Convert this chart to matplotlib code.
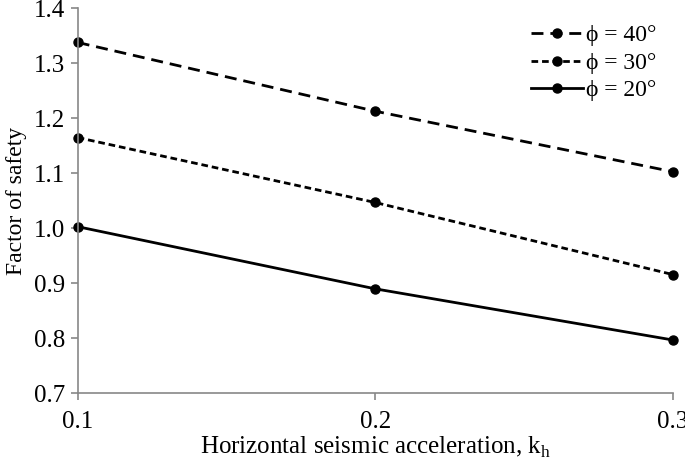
import matplotlib
matplotlib.use("Agg")
import matplotlib.pyplot as plt

plt.rcParams['font.family'] = ['Liberation Serif', 'DejaVu Serif']
plt.rcParams['mathtext.fontset'] = 'custom'
plt.rcParams['mathtext.rm'] = 'Liberation Serif'

kh = [0.1, 0.2, 0.3]
fs_40 = [1.338, 1.213, 1.103]
fs_30 = [1.165, 1.047, 0.916]
fs_20 = [1.003, 0.890, 0.797]
labels = ['ϕ = 40°', 'ϕ = 30°', 'ϕ = 20°']

fig = plt.figure(figsize=(6.85, 4.63), dpi=100)
ax = fig.add_axes([0.1134, 0.1505, 0.982 - 0.1134, 0.982 - 0.1505])

lw = 2.0
ax.plot(kh, fs_40, color='black', lw=lw, dashes=(4.3, 2.5), marker='o', ms=6.5, label=labels[0], clip_on=False)
ax.plot(kh, fs_30, color='black', lw=lw, dashes=(2.4, 1.4), marker='o', ms=6.5, label=labels[1], clip_on=False)
ax.plot(kh, fs_20, color='black', lw=lw, marker='o', ms=6.5, label=labels[2], clip_on=False)

ax.set_xlim(0.1, 0.3)
ax.set_ylim(0.7, 1.4)
ax.set_xticks(kh)
ax.set_xticklabels(['0.1', '0.2', '0.3'])
yt = [0.7, 0.8, 0.9, 1.0, 1.1, 1.2, 1.3, 1.4]
ax.set_yticks(yt)
ax.set_yticklabels(['%.1f' % v for v in yt])

for s in ['top', 'right']:
    ax.spines[s].set_visible(False)
for s in ['left', 'bottom']:
    ax.spines[s].set_color('#878787')
    ax.spines[s].set_linewidth(1.2)
ax.tick_params(axis='y', direction='out', length=5, color='#878787', width=1.2, labelsize=18, pad=4)
ax.tick_params(axis='x', direction='out', length=5, color='#878787', width=1.2, labelsize=18, pad=8)

ax.set_xlabel('Horizontal seismic acceleration, k$_{\\mathrm{h}}$', fontsize=18, labelpad=1)
ax.set_ylabel('Factor of safety', fontsize=17, labelpad=5)

ax.legend(loc='upper right', bbox_to_anchor=(1.0, 1.0), frameon=False, fontsize=17,
          handlelength=2.2, handletextpad=0.1, labelspacing=0.25, borderpad=0.2)

fig.savefig('out.png', dpi=100)
